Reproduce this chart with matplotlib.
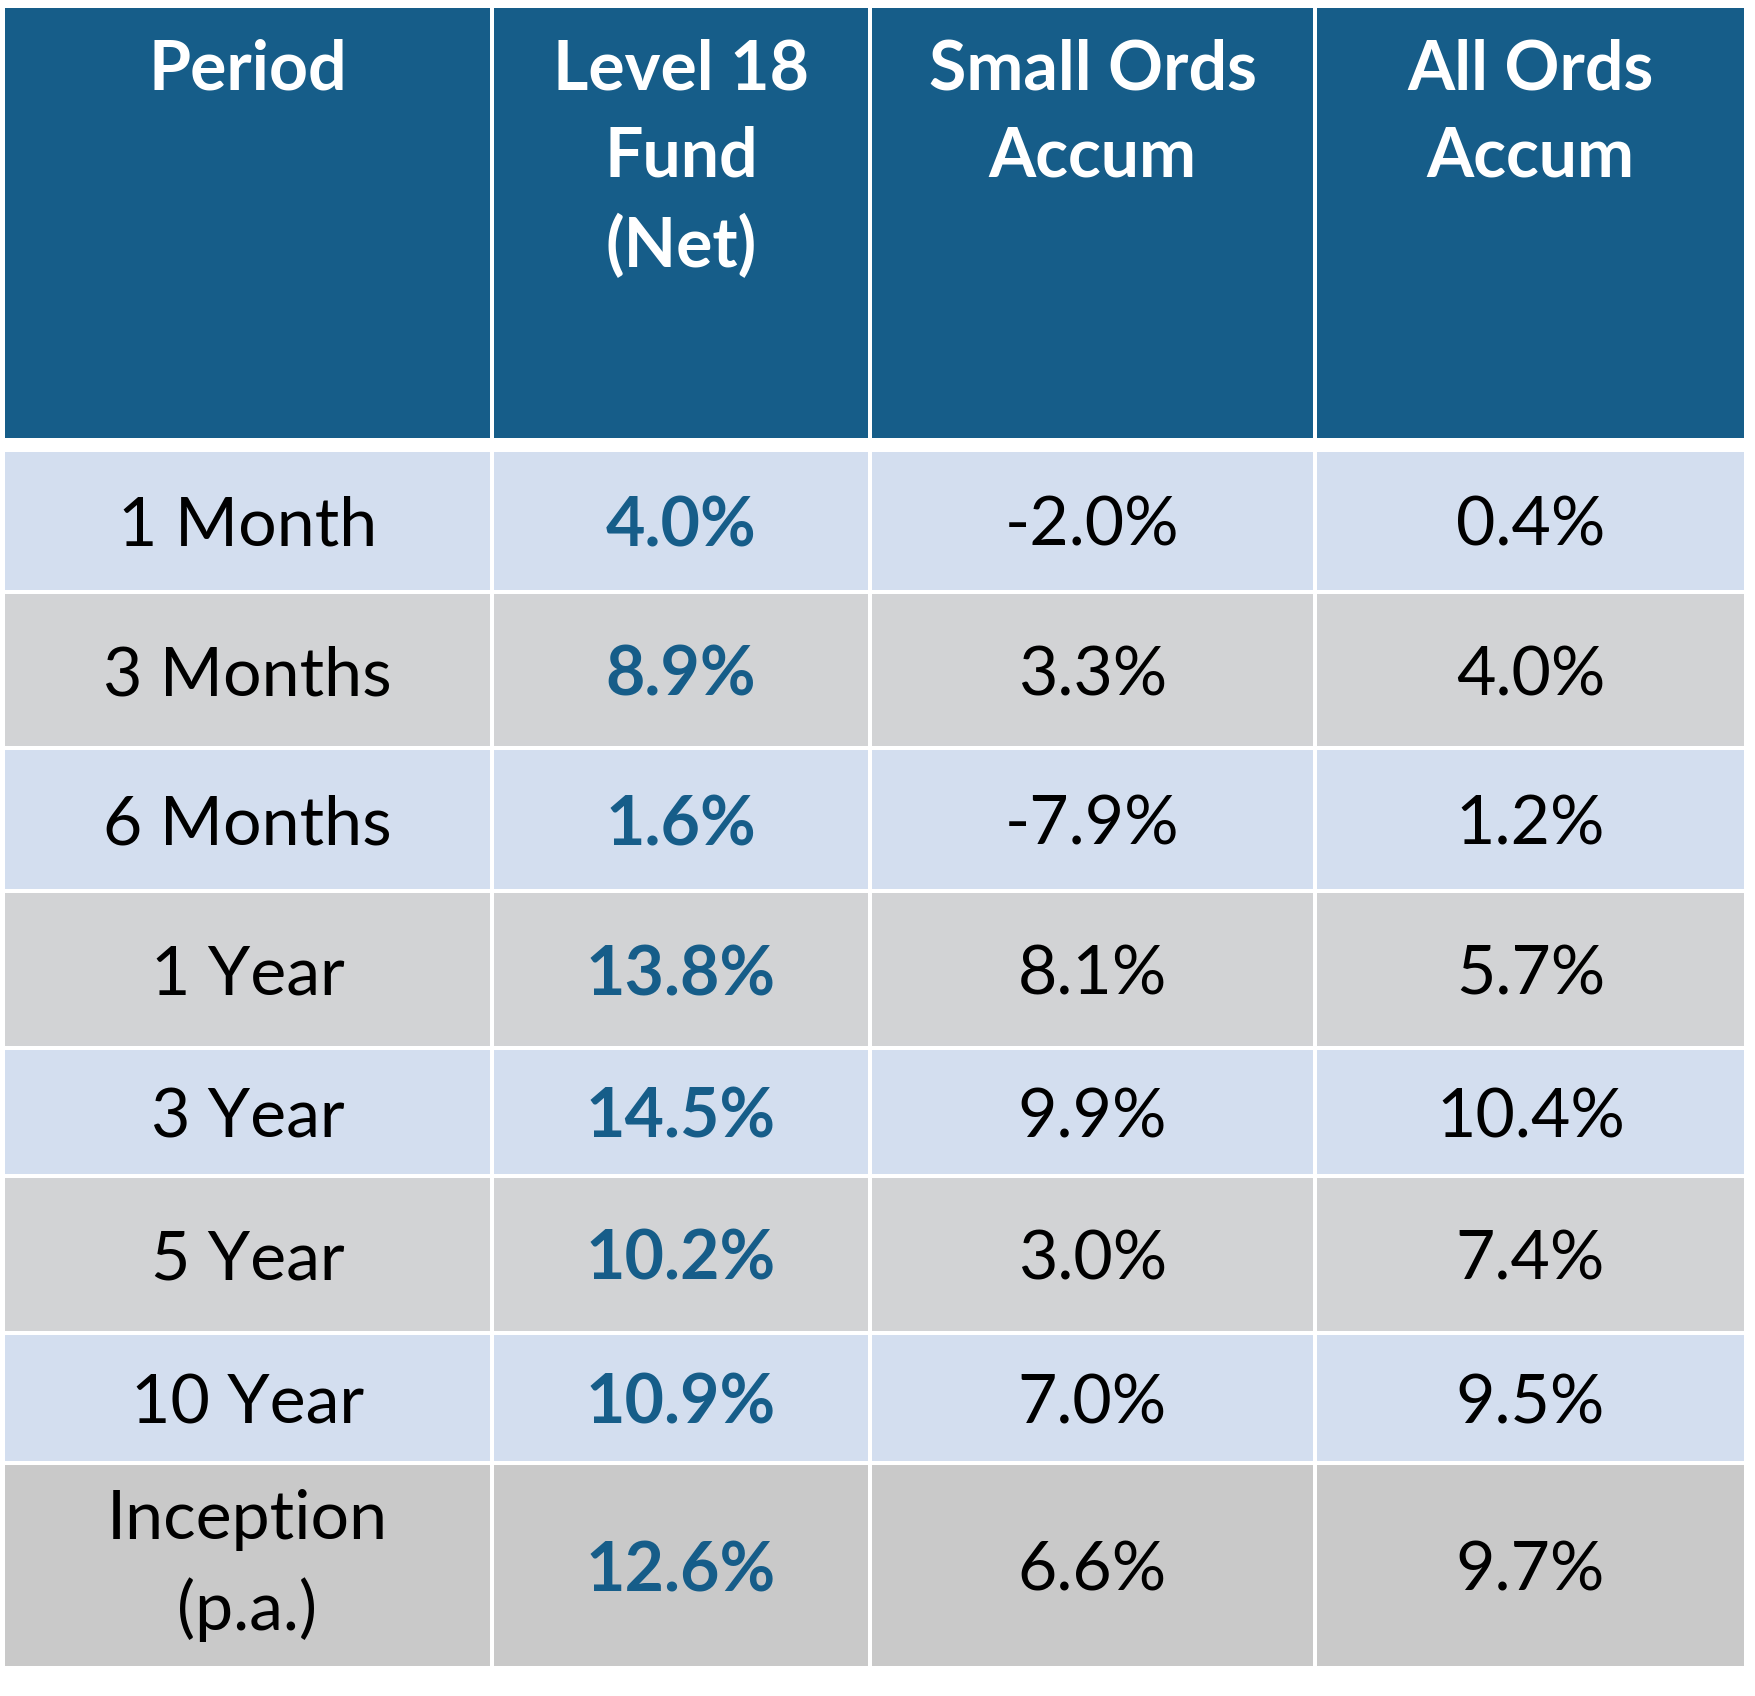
import matplotlib

matplotlib.use("Agg")
import matplotlib.pyplot as plt
from matplotlib.patches import Rectangle

# table content
headers = ["Period", "Level 18\nFund\n(Net)", "Small Ords\nAccum", "All Ords\nAccum"]
periods = ["1 Month", "3 Months", "6 Months", "1 Year", "3 Year", "5 Year", "10 Year", "Inception\n(p.a.)"]
fund_net = [4.0, 8.9, 1.6, 13.8, 14.5, 10.2, 10.9, 12.6]
small_ords = [-2.0, 3.3, -7.9, 8.1, 9.9, 3.0, 7.0, 6.6]
all_ords = [0.4, 4.0, 1.2, 5.7, 10.4, 7.4, 9.5, 9.7]

# layout in pixels (1756 x 1696 canvas)
W, H = 1756, 1696
col_edges = [5, 494, 872, 1317, 1748]
header_box = (8, 438)
row_edges = [452, 594, 750, 893, 1050, 1178, 1335, 1465, 1670]
GAP = 4

BLUE = "#165d89"
LIGHT = "#d3deef"
GREY = "#d2d3d5"
GREY_LAST = "#c9c9c9"

FONT = "Lato"
SIZE = 49
LS = 1.48

fig = plt.figure(figsize=(W / 100, H / 100), dpi=100)
ax = fig.add_axes([0, 0, 1, 1])
ax.set_xlim(0, W)
ax.set_ylim(H, 0)
ax.axis("off")

# header
for j, label in enumerate(headers):
    x0, x1 = col_edges[j], col_edges[j + 1]
    ax.add_patch(Rectangle((x0, header_box[0]), x1 - x0 - GAP, header_box[1] - header_box[0],
                           color=BLUE, lw=0))
    ax.text((x0 + x1 - GAP) / 2, header_box[0] + 30, label, ha="center", va="top",
            color="white", fontsize=SIZE, fontweight="bold", family=FONT, linespacing=LS)

# body
for i, period in enumerate(periods):
    y0, y1 = row_edges[i], row_edges[i + 1] - GAP
    if i == len(periods) - 1:
        fill = GREY_LAST
    else:
        fill = LIGHT if i % 2 == 0 else GREY
    values = [period, f"{fund_net[i]:.1f}%", f"{small_ords[i]:.1f}%", f"{all_ords[i]:.1f}%"]
    for j, val in enumerate(values):
        x0, x1 = col_edges[j], col_edges[j + 1]
        ax.add_patch(Rectangle((x0, y0), x1 - x0 - GAP, y1 - y0, color=fill, lw=0))
        is_fund = j == 1
        va = "center" if "\n" in val else "center_baseline"
        ax.text((x0 + x1 - GAP) / 2, (y0 + y1) / 2, val, ha="center", va=va,
                color=BLUE if is_fund else "black", fontsize=SIZE,
                fontweight="bold" if is_fund else "normal", family=FONT, linespacing=LS)

fig.savefig("out.png", dpi=100, facecolor="white")
